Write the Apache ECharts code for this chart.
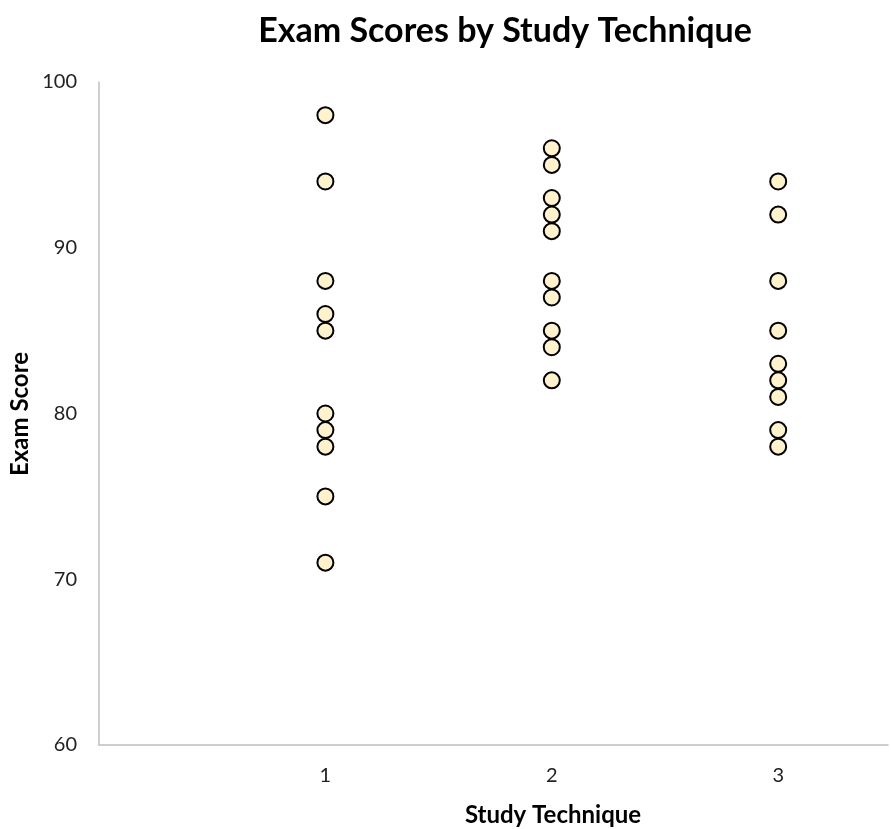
<!DOCTYPE html>
<html lang="en">
<head>
    <meta charset="UTF-8">
    <title>Exam Scores by Study Technique</title>
    <style>
        html, body { margin: 0; padding: 0; background: #fff; }
        #main { width: 891px; height: 829px; }
    </style>
</head>
<body>
    <div id="main"></div>
    <script src="https://cdn.jsdelivr.net/npm/echarts@6/dist/echarts.min.js"></script>
    <script>
        // scores, one list per technique
        var technique1 = [98, 94, 88, 86, 85, 80, 79, 78, 75, 71];
        var technique2 = [96, 95, 93, 92, 91, 88, 87, 85, 84, 82];
        var technique3 = [94, 92, 88, 85, 83, 82, 81, 79, 78];
        var xTickLabels = ['1', '2', '3'];
        var yTicks = [60, 70, 80, 90, 100];

        function toPoints(x, scores) {
            return scores.map(function (s) { return [x, s]; });
        }
        var points = [].concat(
            toPoints(1, technique1),
            toPoints(2, technique2),
            toPoints(3, technique3)
        );

        var font = 'Lato, "Open Sans", sans-serif';
        var myChart = echarts.init(document.getElementById('main'));
        var option = {
            animation: false,
            grid: { left: 99, right: 1, top: 82, bottom: 84 },
            xAxis: {
                type: 'value',
                min: 0,
                max: 3.485,
                interval: 1,
                axisLine: { show: true, lineStyle: { color: '#bfbfbf', width: 1.5 } },
                axisTick: { show: false },
                splitLine: { show: false },
                axisLabel: {
                    margin: 21,
                    fontSize: 20,
                    color: '#222',
                    fontFamily: font,
                    formatter: function (v) {
                        var i = xTickLabels.indexOf(String(v));
                        return i >= 0 ? xTickLabels[i] : '';
                    }
                }
            },
            yAxis: {
                type: 'value',
                min: yTicks[0],
                max: yTicks[yTicks.length - 1],
                interval: 10,
                axisLine: { show: true, lineStyle: { color: '#bfbfbf', width: 1.5 } },
                axisTick: { show: false },
                splitLine: { show: false },
                axisLabel: { margin: 22, fontSize: 20, color: '#222', fontFamily: font }
            },
            series: [{
                type: 'scatter',
                data: points,
                symbol: 'circle',
                symbolSize: 16,
                itemStyle: { color: '#fff2cc', borderColor: '#000', borderWidth: 2, opacity: 1 }
            }],
            graphic: [
                {
                    type: 'text', x: 505, y: 31,
                    style: { text: 'Exam Scores by Study Technique', font: 'bold 34px ' + font, fill: '#000',
                             textAlign: 'center', textVerticalAlign: 'middle' }
                },
                {
                    type: 'text', x: 553, y: 815,
                    style: { text: 'Study Technique', font: 'bold 24px ' + font, fill: '#000',
                             textAlign: 'center', textVerticalAlign: 'middle' }
                },
                {
                    type: 'text', x: 20, y: 414, rotation: Math.PI / 2,
                    style: { text: 'Exam Score', font: 'bold 24px ' + font, fill: '#000',
                             textAlign: 'center', textVerticalAlign: 'middle' }
                }
            ]
        };
        myChart.setOption(option);
    </script>
</body>
</html>
